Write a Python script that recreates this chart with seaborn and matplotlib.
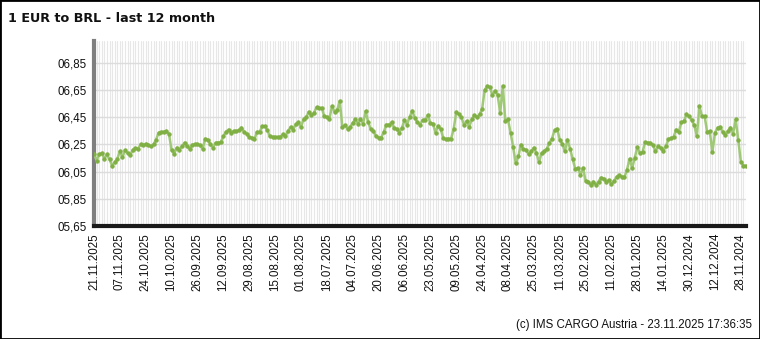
import numpy as np
import pandas as pd
import matplotlib
matplotlib.use("Agg")
import matplotlib.pyplot as plt
from matplotlib.patches import Rectangle
from matplotlib.ticker import FixedLocator, MultipleLocator
import seaborn as sns

# Daily EUR/BRL rates, newest first (21.11.2025 back to 21.11.2024)
rates = [
    6.181, 6.131, 6.176, 6.186, 6.144, 6.176, 6.139, 6.094, 6.119, 6.144,
    6.198, 6.156, 6.206, 6.186, 6.169, 6.211, 6.223, 6.218, 6.250, 6.243,
    6.255, 6.248, 6.235, 6.250, 6.285, 6.337, 6.341, 6.344, 6.349, 6.324,
    6.206, 6.181, 6.226, 6.211, 6.235, 6.263, 6.235, 6.218, 6.248, 6.250,
    6.250, 6.243, 6.218, 6.292, 6.285, 6.250, 6.226, 6.263, 6.263, 6.267,
    6.309, 6.343, 6.359, 6.337, 6.349, 6.346, 6.354, 6.374, 6.341, 6.329,
    6.304, 6.300, 6.287, 6.341, 6.341, 6.383, 6.383, 6.354, 6.309, 6.304,
    6.304, 6.304, 6.304, 6.324, 6.309, 6.349, 6.378, 6.359, 6.398, 6.411,
    6.378, 6.435, 6.448, 6.489, 6.465, 6.482, 6.522, 6.514, 6.519, 6.457,
    6.452, 6.440, 6.531, 6.489, 6.502, 6.569, 6.378, 6.391, 6.366, 6.378,
    6.408, 6.435, 6.403, 6.433, 6.403, 6.494, 6.411, 6.361, 6.349, 6.309,
    6.300, 6.300, 6.341, 6.396, 6.396, 6.411, 6.374, 6.361, 6.337, 6.371,
    6.428, 6.396, 6.452, 6.497, 6.445, 6.411, 6.396, 6.428, 6.428, 6.465,
    6.408, 6.403, 6.337, 6.386, 6.361, 6.297, 6.287, 6.292, 6.292, 6.361,
    6.485, 6.472, 6.448, 6.396, 6.420, 6.378, 6.433, 6.465, 6.448, 6.470,
    6.509, 6.650, 6.680, 6.670, 6.613, 6.643, 6.613, 6.482, 6.680, 6.420,
    6.433, 6.337, 6.230, 6.111, 6.161, 6.248, 6.213, 6.211, 6.176, 6.200,
    6.226, 6.186, 6.119, 6.186, 6.200, 6.218, 6.260, 6.292, 6.354, 6.366,
    6.285, 6.255, 6.200, 6.285, 6.218, 6.144, 6.070, 6.077, 6.026, 6.077,
    5.983, 5.977, 5.953, 5.977, 5.953, 5.977, 6.006, 5.999, 5.977, 5.988,
    5.956, 5.983, 6.013, 6.026, 6.013, 6.008, 6.063, 6.144, 6.077, 6.151,
    6.230, 6.186, 6.193, 6.267, 6.263, 6.260, 6.248, 6.198, 6.235, 6.223,
    6.200, 6.235, 6.287, 6.297, 6.304, 6.359, 6.341, 6.411, 6.420, 6.470,
    6.457, 6.428, 6.391, 6.311, 6.531, 6.457, 6.457, 6.341, 6.346, 6.193,
    6.334, 6.374, 6.378, 6.341, 6.317, 6.346, 6.374, 6.329, 6.433, 6.285,
    6.124, 6.094, 6.094,
]

# Every tenth trading day is labelled
date_labels = [
    "21.11.2025", "07.11.2025", "24.10.2025", "10.10.2025", "26.09.2025",
    "12.09.2025", "29.08.2025", "15.08.2025", "01.08.2025", "18.07.2025",
    "04.07.2025", "20.06.2025", "06.06.2025", "23.05.2025", "09.05.2025",
    "24.04.2025", "08.04.2025", "25.03.2025", "11.03.2025", "25.02.2025",
    "11.02.2025", "28.01.2025", "14.01.2025", "30.12.2024", "12.12.2024",
    "28.11.2024",
]
label_step = 10

y_ticks = [5.65, 5.85, 6.05, 6.25, 6.45, 6.65, 6.85]
y_tick_labels = ["05,65", "05,85", "06,05", "06,25", "06,45", "06,65", "06,85"]

title = "1 EUR to BRL - last 12 month"
footer = "(c) IMS CARGO Austria - 23.11.2025 17:36:35"

sns.set_theme(style="white")
plt.rcParams["font.family"] = ["Liberation Sans", "DejaVu Sans"]

df = pd.DataFrame({"pos": np.arange(len(rates)), "rate": rates})

W, H = 760, 339
fig = plt.figure(figsize=(W / 100, H / 100), dpi=100)
fig.patch.set_facecolor("white")
ax = fig.add_axes([94 / W, 1 - 226 / H, (746 - 94) / W, (226 - 41) / H])
ax.set_facecolor("white")

sns.lineplot(
    data=df, x="pos", y="rate", ax=ax,
    color="#a0c977", linewidth=1.8,
    marker="o", markersize=2.4,
    markerfacecolor="#80b044", markeredgecolor="#80b044",
    zorder=3,
)

ax.set_xlim(0, len(rates) - 1)
ax.set_ylim(5.65, 7.01)

# x axis: one grid line per trading day, labels every tenth day
ax.xaxis.set_major_locator(FixedLocator(np.arange(len(date_labels)) * label_step))
ax.set_xticklabels(date_labels, rotation=90, fontsize=8.3, color="#111111")
ax.xaxis.set_minor_locator(MultipleLocator(1))
ax.yaxis.set_major_locator(FixedLocator(y_ticks))
ax.set_yticklabels(y_tick_labels, fontsize=8.3, color="#111111")

ax.tick_params(axis="both", which="both", length=0)
ax.tick_params(axis="x", pad=5)
ax.tick_params(axis="y", pad=5)

ax.grid(True, axis="x", which="both", color="#e7e7e7", linewidth=0.8, zorder=0)
ax.grid(True, axis="y", which="major", color="#dcdcdc", linewidth=1.0, zorder=0)

ax.set_xlabel("")
ax.set_ylabel("")

for side in ("top", "right"):
    ax.spines[side].set_visible(False)
ax.spines["left"].set_color("#7f7f7f")
ax.spines["left"].set_linewidth(3)
ax.spines["bottom"].set_color("#1a1a1a")
ax.spines["bottom"].set_linewidth(3)

fig.text(8 / W, 1 - 18 / H, title, fontsize=9.2, fontweight="bold",
         family=["DejaVu Sans"], color="#111111", va="center", ha="left")
fig.text(752 / W, 1 - 325 / H, footer, fontsize=8.3, color="#111111",
         va="center", ha="right")

fig.patches.append(Rectangle((0, 0), 1, 1, transform=fig.transFigure,
                             fill=False, edgecolor="black", linewidth=2))

fig.savefig("out.png", dpi=100)
